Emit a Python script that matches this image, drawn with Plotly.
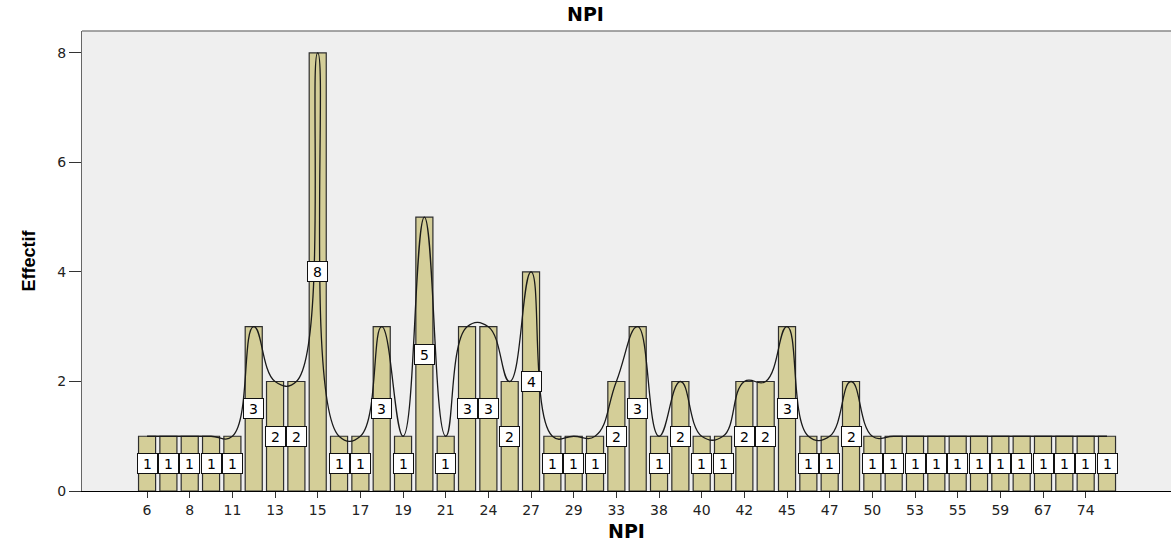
import plotly.graph_objects as go

# NPI categories (bars) and their counts (Effectif)
npi_values = [6, 7, 8, 9, 11, 12, 13, 14, 15, 16, 17, 18, 19, 20, 21, 23, 24, 26, 27, 28,
              29, 31, 33, 35, 38, 39, 40, 41, 42, 43, 45, 46, 47, 48, 50, 52, 53, 54, 55, 57,
              59, 62, 67, 70, 74, 78]
counts = [1, 1, 1, 1, 1, 3, 2, 2, 8, 1, 1, 3, 1, 5, 1, 3, 3, 2, 4, 1,
          1, 1, 2, 3, 1, 2, 1, 1, 2, 2, 3, 1, 1, 2, 1, 1, 1, 1, 1, 1,
          1, 1, 1, 1, 1, 1]
# tick labels shown on the x axis (every other category)
shown_ticks = ["6", "8", "11", "13", "15", "17", "19", "21", "24", "27", "29", "33",
               "38", "40", "42", "45", "47", "50", "53", "55", "59", "67", "74"]
y_ticks = [0, 2, 4, 6, 8]

pos = list(range(len(npi_values)))
tick_pos = [p for p in pos if str(npi_values[p]) in shown_ticks]

fig = go.Figure()
fig.add_trace(go.Bar(
    x=pos, y=counts, width=0.8,
    marker=dict(color="#d4ce98", line=dict(color="#2e2e2e", width=1.2)),
    hoverinfo="skip", showlegend=False,
))
fig.add_trace(go.Scatter(
    x=pos, y=counts, mode="lines",
    line=dict(color="#1a1a1a", width=1.3, shape="spline", smoothing=1.3),
    hoverinfo="skip", showlegend=False,
))

for p, c in zip(pos, counts):
    fig.add_annotation(
        x=p, y=c / 2, text=str(c), showarrow=False,
        font=dict(family="DejaVu Sans", size=14, color="#000"),
        bgcolor="white", bordercolor="#111", borderwidth=1, borderpad=1,
        width=17, height=17,
    )

fig.update_layout(
    width=1171, height=544,
    margin=dict(l=82, r=0, t=31, b=53),
    paper_bgcolor="white", plot_bgcolor="#efefef",
    title=dict(text="<b>NPI</b>", x=0.5, xanchor="center", y=0.974, yanchor="middle",
               font=dict(family="DejaVu Sans", size=19, color="#000")),
    font=dict(family="DejaVu Sans", size=14, color="#222"),
    bargap=0.2,
)
fig.update_xaxes(
    range=[-3.05, 48.0], tickmode="array", tickvals=tick_pos, ticktext=shown_ticks,
    ticks="outside", ticklen=6, tickcolor="#333", showgrid=False, zeroline=False,
    showline=True, linecolor="#000", linewidth=1,
    tickfont=dict(family="DejaVu Sans", size=14, color="#222"),
    title=dict(text="<b>NPI</b>", standoff=7,
               font=dict(family="DejaVu Sans", size=19, color="#000")),
)
fig.update_yaxes(
    range=[0, 8.4], tickmode="array", tickvals=y_ticks,
    ticks="outside", ticklen=12, tickcolor="#333", showgrid=False, zeroline=False,
    showline=True, linecolor="#666", linewidth=1, mirror=False,
    tickfont=dict(family="DejaVu Sans", size=14, color="#222"),
    title=dict(text="<b>Effectif</b>", standoff=16,
               font=dict(family="Liberation Sans", size=18, color="#000")),
)
# top frame line of the plot area
fig.add_shape(type="line", xref="paper", yref="paper", x0=0, x1=1, y0=1, y1=1,
              line=dict(color="#888", width=1.5))

fig.write_html("out.html")
